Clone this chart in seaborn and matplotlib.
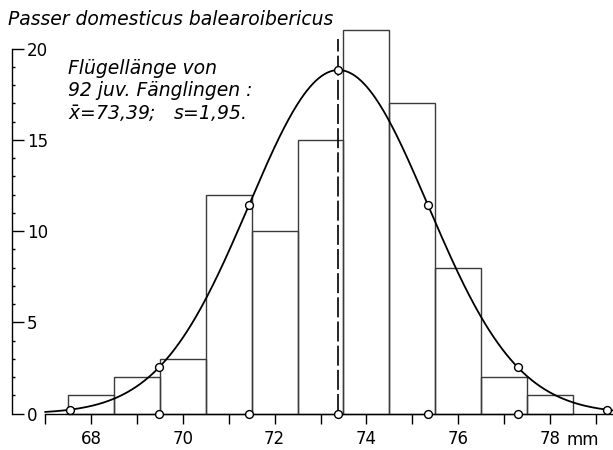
import numpy as np
import pandas as pd
import seaborn as sns
import matplotlib
matplotlib.use("Agg")
import matplotlib.pyplot as plt

# ---- data ----
wing_mm = [68, 69, 70, 71, 72, 73, 74, 75, 76, 77, 78]
counts = [1, 2, 3, 12, 10, 15, 21, 17, 8, 2, 1]
mean_mm = 73.39
sd_mm = 1.95
n_birds = 92
sigma_steps = [-3, -2, -1, 0, 1, 2, 3]
x_tick_values = [67, 68, 69, 70, 71, 72, 73, 74, 75, 76, 77, 78, 79]
x_tick_labels = ["", "68", "", "70", "", "72", "", "74", "", "76", "", "78", ""]
y_major = [0, 5, 10, 15, 20]
y_minor = list(range(0, 21))
title_text = "Passer domesticus balearoibericus"
note_text = "Flügellänge von\n92 juv. Fänglingen :\n$\\bar{x}$=73,39;   s=1,95."

sns.set_style("ticks")
plt.rcParams["font.family"] = ["DejaVu Sans"]
plt.rcParams["mathtext.fontset"] = "dejavusans"
plt.rcParams["text.color"] = "black"

fig = plt.figure(figsize=(6.13, 4.5), dpi=100)
ax = fig.add_axes([12 / 613, 31 / 450, 1 - 12 / 613, 392.4 / 450])
xlim = (66.28, 79.37)
ax.set_xlim(*xlim)
ax.set_ylim(-0.3, 21.2)

df = pd.DataFrame({"mm": wing_mm, "n": counts})
sns.histplot(data=df, x="mm", weights="n", discrete=True, fill=False,
             color="#3a3a3a", linewidth=1.0, ax=ax)

# fitted normal curve from the stated mean, s and n (bin width 1 mm)
xs = np.linspace(67.0, xlim[1], 400)
ys = n_birds / (sd_mm * np.sqrt(2 * np.pi)) * np.exp(-0.5 * ((xs - mean_mm) / sd_mm) ** 2)
sns.lineplot(x=xs, y=ys, color="black", linewidth=1.3, ax=ax)

px = np.array([mean_mm + k * sd_mm for k in sigma_steps])
py = n_birds / (sd_mm * np.sqrt(2 * np.pi)) * np.exp(-0.5 * ((px - mean_mm) / sd_mm) ** 2)
ax.vlines(mean_mm, 0, 20.5, colors="black", linewidth=1.2, linestyles=(0, (12, 2.5)))
sns.scatterplot(x=px, y=py, s=32, facecolor="white", edgecolor="black",
                linewidth=1.0, zorder=5, ax=ax)
sns.scatterplot(x=px[1:-1], y=np.zeros(len(px) - 2), s=32, facecolor="white",
                edgecolor="black", linewidth=1.0, zorder=5, ax=ax, clip_on=False)

# axes styling
for s in ["top", "right"]:
    ax.spines[s].set_visible(False)
ax.spines["left"].set_bounds(0, 20)
ax.spines["bottom"].set_position(("data", 0))
ax.spines["bottom"].set_bounds(67, xlim[1])
for s in ["left", "bottom"]:
    ax.spines[s].set_linewidth(1.0)
    ax.spines[s].set_color("black")

ax.set_xticks(x_tick_values)
ax.set_xticklabels(x_tick_labels)
ax.set_yticks(y_major)
ax.set_yticks(y_minor, minor=True)
ax.set_xlabel("")
ax.set_ylabel("")
ax.tick_params(axis="x", which="major", direction="out", length=7.2, width=1.0,
               pad=5, labelsize=12, colors="black", bottom=True)
ax.tick_params(axis="y", which="major", direction="in", length=8.6, width=1.0,
               pad=-10.8, labelsize=12, colors="black", left=True)
ax.tick_params(axis="y", which="minor", direction="in", length=2.5, width=1.0,
               left=True, colors="black")
for lbl in ax.get_yticklabels():
    lbl.set_horizontalalignment("left")

ax.annotate("mm", xy=(78, 0), xycoords=("data", "data"), xytext=(12, -12.3),
            textcoords="offset points", ha="left", va="top", fontsize=12,
            color="black")

fig.text(8 / 613, (450 - 25) / 450, title_text, fontsize=13.5, fontstyle="italic",
         ha="left", va="baseline", color="black")
fig.text(68 / 613, (450 - 59) / 450, note_text, fontsize=13.5, fontstyle="italic",
         ha="left", va="top", linespacing=1.2, color="black")

fig.savefig("out.png", dpi=100)
